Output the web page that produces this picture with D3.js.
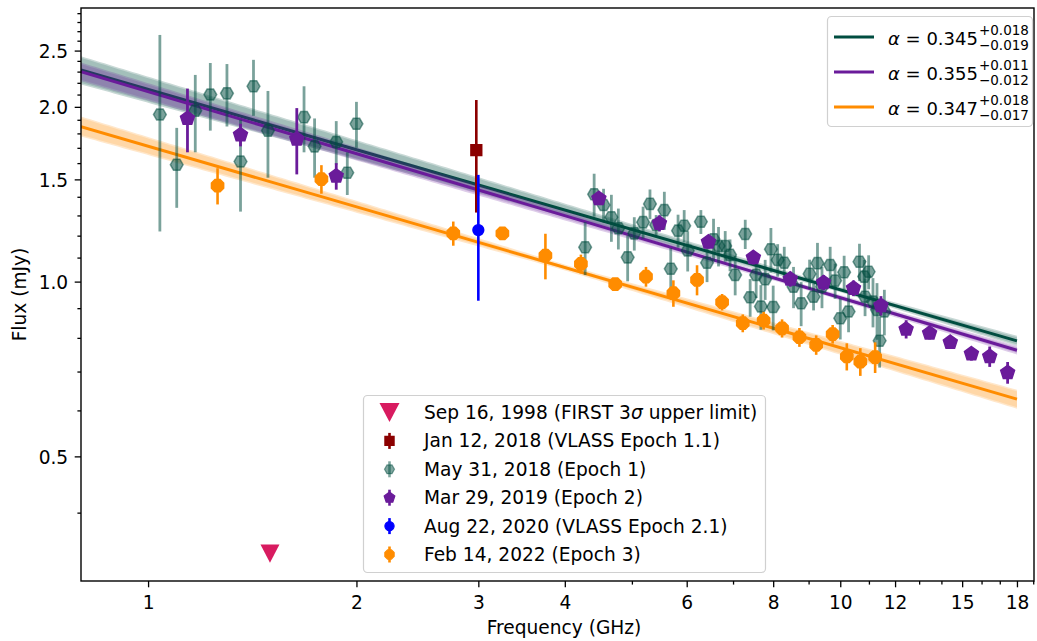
<!DOCTYPE html>
<html>
<head>
<meta charset="utf-8">
<script src="https://cdn.jsdelivr.net/npm/d3@7"></script>
<style>
  body { margin: 0; background: #fff; }
  svg { display: block; font-family: "DejaVu Sans", sans-serif; }
</style>
</head>
<body>
<svg id="chart" width="1037" height="641"></svg>
<script>
// ---- Epoch 1: May 31, 2018 ----
const ep1Freq = [1.04, 1.10, 1.17, 1.23, 1.30, 1.36, 1.42, 1.49, 1.68, 1.74, 1.87, 1.94, 2.00,
  4.28, 4.41, 4.55, 4.67, 4.78, 4.93, 5.04, 5.19, 5.31, 5.42, 5.57, 5.69, 5.83, 5.95, 6.02,
  6.29, 6.42, 6.56, 6.67, 6.82, 6.93, 7.05, 7.29, 7.41, 7.56, 7.68, 7.79, 7.94, 8.00, 8.12,
  8.30, 8.56, 8.78, 9.03, 9.15, 9.27, 9.41, 9.67, 9.83, 10.00, 10.13, 10.28, 10.66, 10.83,
  10.86, 10.99, 11.15, 11.30, 11.40, 11.58];
const ep1Flux = [1.94, 1.59, 1.97, 2.10, 2.11, 1.61, 2.17, 1.82, 1.92, 1.71, 1.74, 1.54, 1.87,
  1.146, 1.414, 1.355, 1.291, 1.236, 1.101, 1.211, 1.266, 1.361, 1.252, 1.328, 1.052, 1.224, 1.248, 1.131,
  1.268, 1.078, 1.183, 1.152, 1.152, 1.112, 1.027, 1.208, 0.940, 1.027, 0.906, 1.010, 1.137, 0.904, 1.090,
  1.078, 0.980, 0.918, 1.031, 0.942, 1.076, 0.980, 1.068, 1.004, 0.865, 1.038, 0.888, 1.082, 1.020,
  0.942, 1.040, 0.924, 0.894, 0.791, 0.888];
const ep1Err = [0.72, 0.25, 0.30, 0.28, 0.26, 0.29, 0.24, 0.31, 0.25, 0.20, 0.15, 0.13, 0.17,
  0.12, 0.12, 0.09, 0.12, 0.10, 0.10, 0.08, 0.08, 0.08, 0.05, 0.10, 0.09, 0.08, 0.08, 0.09,
  0.06, 0.08, 0.10, 0.09, 0.07, 0.07, 0.08, 0.07, 0.07, 0.09, 0.08, 0.08, 0.10, 0.08, 0.07,
  0.07, 0.08, 0.08, 0.06, 0.05, 0.09, 0.08, 0.08, 0.07, 0.07, 0.07, 0.07, 0.08, 0.07,
  0.07, 0.07, 0.09, 0.10, 0.08, 0.08];

// ---- Epoch 2: Mar 29, 2019 ----
const ep2Freq = [1.14, 1.36, 1.64, 1.87, 4.48, 5.48, 6.45, 7.49, 8.47, 9.46, 10.45, 11.45,
  12.45, 13.46, 14.42, 15.47, 16.44, 17.45];
const ep2Flux = [1.91, 1.79, 1.76, 1.52, 1.39, 1.26, 1.17, 1.10, 1.01, 0.996, 0.974, 0.909,
  0.828, 0.815, 0.786, 0.751, 0.743, 0.697];
const ep2Err = [0.24, 0.08, 0.23, 0.08, 0.03, 0.04, 0.03, 0.03, 0.03, 0.03, 0.03, 0.035,
  0.03, 0.02, 0.02, 0.02, 0.03, 0.03];

// ---- Epoch 3: Feb 14, 2022 ----
const ep3Freq = [1.26, 1.78, 2.76, 3.25, 3.75, 4.22, 4.73, 5.24, 5.74, 6.21, 6.75, 7.23,
  7.75, 8.24, 8.73, 9.23, 9.75, 10.22, 10.69, 11.23];
const ep3Flux = [1.463, 1.502, 1.211, 1.211, 1.109, 1.073, 0.990, 1.020, 0.955, 1.007, 0.922, 0.848,
  0.857, 0.831, 0.802, 0.778, 0.812, 0.743, 0.728, 0.741];
const ep3Err = [0.105, 0.085, 0.058, 0.03, 0.10, 0.04, 0.02, 0.04, 0.05, 0.06, 0.03, 0.03,
  0.03, 0.03, 0.03, 0.03, 0.03, 0.04, 0.04, 0.045];

// ---- VLASS single points and FIRST limit ----
const vlass11 = { freq: 2.98, flux: 1.685, err: 0.37 };
const vlass21 = { freq: 3.00, flux: 1.227, err: 0.30 };
const firstLimit = { freq: 1.5, flux: 0.34 };

// ---- Power-law fits S = A * nu^-alpha (A at 1 GHz) ----
const fitNames = ["ep1", "ep2", "ep3"];
const fitNorm = [2.143, 2.125, 1.711];
const fitAlpha = [0.345, 0.355, 0.347];
const fitErrPlus = [0.018, 0.011, 0.018];
const fitErrMinus = [0.019, 0.012, 0.017];
const fitPivot = [10, 9, 4];
const fitNormErr = [0.004, 0.004, 0.005];
const fitRange = [0.8, 18];

// ---- Axis ticks ----
const xMajorTicks = [1, 2, 3, 4, 6, 8, 10, 12, 15, 18];
const xMinorTicks = [5, 7, 9, 11, 13, 14, 16, 17, 19];
const yMajorTicks = [0.5, 1.0, 1.5, 2.0, 2.5];
const yMinorTicks = [0.4, 0.6, 0.7, 0.8, 0.9, 1.1, 1.2, 1.3, 1.4, 1.6, 1.7, 1.8, 1.9,
  2.1, 2.2, 2.3, 2.4, 2.6, 2.7, 2.8, 2.9];

// legend labels; a "σ" is set in italic when drawn
const legendLabels = [
  "Sep 16, 1998 (FIRST 3\u03c3 upper limit)",
  "Jan 12, 2018 (VLASS Epoch 1.1)",
  "May 31, 2018 (Epoch 1)",
  "Mar 29, 2019 (Epoch 2)",
  "Aug 22, 2020 (VLASS Epoch 2.1)",
  "Feb 14, 2022 (Epoch 3)"
];

// ---- Drawing ----
const colors = {
  ep1: "#004d40", ep2: "#6a1b9a", ep3: "#ff8c00",
  vlass11: "#8b0000", vlass21: "#0000ff", first: "#d81b60"
};
const FS = 18.6;
const box = { left: 81, top: 8, right: 1034, bottom: 581 };

const svg = d3.select("#chart");
const x = d3.scaleLog().domain([0.8, 19.05]).range([box.left, box.right]);
const y = d3.scaleLog().domain([0.305, 2.96]).range([box.bottom, box.top]);

svg.append("defs").append("clipPath").attr("id", "plotClip")
  .append("rect").attr("x", box.left).attr("y", box.top)
  .attr("width", box.right - box.left).attr("height", box.bottom - box.top);

const plotG = svg.append("g").attr("clip-path", "url(#plotClip)");

// marker shapes
function polygon(n, r, rot) {
  const pts = d3.range(n).map(i => {
    const a = rot + 2 * Math.PI * i / n;
    return [r * Math.cos(a), r * Math.sin(a)];
  });
  return "M" + pts.map(p => p[0].toFixed(2) + "," + p[1].toFixed(2)).join("L") + "Z";
}
const shapes = {
  hexagon: r => polygon(6, r, 0),
  pentagon: r => polygon(5, r, -Math.PI / 2),
  octagon: r => polygon(8, r, Math.PI / 8),
  square: r => polygon(4, r * Math.SQRT2, Math.PI / 4),
  circle: r => `M${r},0A${r},${r} 0 1,1 ${-r},0A${r},${r} 0 1,1 ${r},0Z`,
  triDown: r => `M${-r},${-r * 0.95}L${r},${-r * 0.95}L0,${r * 0.95}Z`
};

// fit bands and lines
const nuGrid = d3.range(0, 201).map(i => fitRange[0] * Math.pow(fitRange[1] / fitRange[0], i / 200));
const bandOpacity = [0.4, 0.4, 0.38];
fitNames.forEach((name, k) => {
  const A = fitNorm[k], a = fitAlpha[k], p = fitPivot[k];
  const s0 = A * Math.pow(p, -a);
  const band = nuGrid.map(nu => {
    const v1 = s0 * Math.pow(nu / p, -(a + fitErrPlus[k]));
    const v2 = s0 * Math.pow(nu / p, -(a - fitErrMinus[k]));
    const f = Math.pow(10, fitNormErr[k]);
    return { nu, lo: Math.min(v1, v2) / f, hi: Math.max(v1, v2) * f };
  });
  plotG.append("path").datum(band)
    .attr("d", d3.area().x(d => x(d.nu)).y0(d => y(d.lo)).y1(d => y(d.hi)))
    .attr("fill", colors[name]).attr("fill-opacity", bandOpacity[k] * 0.55).attr("stroke", "none");
  plotG.append("path").datum(band)
    .attr("d", d3.area().x(d => x(d.nu)).y0(d => y(d.lo * 1.006)).y1(d => y(d.hi / 1.006)))
    .attr("fill", colors[name]).attr("fill-opacity", bandOpacity[k] * 0.45).attr("stroke", "none");
  plotG.append("path").datum(fitRange)
    .attr("d", d3.line().x(nu => x(nu)).y(nu => y(A * Math.pow(nu, -a))))
    .attr("stroke", colors[name]).attr("stroke-width", 3).attr("fill", "none");
});

// error-bar series
function drawSeries(freq, flux, err, opt) {
  const g = plotG.append("g");
  const pts = freq.map((f, i) => ({ f, v: flux[i], e: err[i] }));
  g.selectAll("line.eb").data(pts).join("line")
    .attr("x1", d => x(d.f)).attr("x2", d => x(d.f))
    .attr("y1", d => y(Math.max(d.v - d.e, 0.01))).attr("y2", d => y(d.v + d.e))
    .attr("stroke", opt.color).attr("stroke-width", opt.ew)
    .attr("stroke-opacity", opt.alpha);
  g.selectAll("path.mk").data(pts).join("path")
    .attr("transform", d => `translate(${x(d.f)},${y(d.v)})`)
    .attr("d", opt.shape(opt.r))
    .attr("fill", opt.color).attr("fill-opacity", opt.alpha)
    .attr("stroke", opt.color).attr("stroke-opacity", opt.alpha).attr("stroke-width", 1.5);
}

// FIRST upper limit
plotG.append("path")
  .attr("transform", `translate(${x(firstLimit.freq)},${y(firstLimit.flux)})`)
  .attr("d", shapes.triDown(9.5)).attr("fill", colors.first);

drawSeries([vlass11.freq], [vlass11.flux], [vlass11.err],
  { color: colors.vlass11, shape: shapes.square, r: 5.4, ew: 2.6, alpha: 1 });
drawSeries(ep1Freq, ep1Flux, ep1Err,
  { color: colors.ep1, shape: shapes.hexagon, r: 6.4, ew: 2.8, alpha: 0.52 });
drawSeries(ep2Freq, ep2Flux, ep2Err,
  { color: colors.ep2, shape: shapes.pentagon, r: 7.3, ew: 2.8, alpha: 1 });
drawSeries([vlass21.freq], [vlass21.flux], [vlass21.err],
  { color: colors.vlass21, shape: shapes.circle, r: 5.4, ew: 2.6, alpha: 1 });
drawSeries(ep3Freq, ep3Flux, ep3Err,
  { color: colors.ep3, shape: shapes.octagon, r: 6.6, ew: 2.6, alpha: 1 });

// axes
const xAxisG = svg.append("g").attr("transform", `translate(0,${box.bottom})`);
xAxisG.call(d3.axisBottom(x).tickValues(xMajorTicks).tickFormat(d3.format("d"))
  .tickSize(6.3).tickPadding(8));
xAxisG.append("g").call(d3.axisBottom(x).tickValues(xMinorTicks).tickFormat("").tickSize(3.6));
const yAxisG = svg.append("g").attr("transform", `translate(${box.left},0)`);
yAxisG.call(d3.axisLeft(y).tickValues(yMajorTicks).tickFormat(d3.format(".1f"))
  .tickSize(6.3).tickPadding(6.5));
yAxisG.append("g").call(d3.axisLeft(y).tickValues(yMinorTicks).tickFormat("").tickSize(3.6));
svg.selectAll(".domain").remove();
svg.selectAll(".tick line").attr("stroke", "#000").attr("stroke-width", 1.3);
svg.selectAll(".tick text").attr("fill", "#000").style("font-size", FS + "px")
  .style("font-family", "'DejaVu Sans', sans-serif");
xAxisG.selectAll(".tick text").attr("dy", "0.72em");
yAxisG.selectAll(".tick text").attr("dy", "0.36em");

svg.append("rect").attr("x", box.left).attr("y", box.top)
  .attr("width", box.right - box.left).attr("height", box.bottom - box.top)
  .attr("fill", "none").attr("stroke", "#000").attr("stroke-width", 1.4);

svg.append("text").attr("x", 564).attr("y", 634).attr("text-anchor", "middle")
  .style("font-size", FS + "px").text("Frequency (GHz)");
svg.append("text").attr("transform", `translate(26,${(box.top + box.bottom) / 2}) rotate(-90)`)
  .attr("text-anchor", "middle").style("font-size", FS + "px").text("Flux (mJy)");

// fit legend (upper right)
const fitLeg = svg.append("g");
fitLeg.append("rect").attr("x", 827.5).attr("y", 16.5).attr("width", 205).attr("height", 110)
  .attr("rx", 4).attr("fill", "#fff").attr("fill-opacity", 0.8)
  .attr("stroke", "#d0d0d0").attr("stroke-width", 1.2);
fitNames.forEach((name, k) => {
  const base = 45 + k * 35;
  fitLeg.append("line").attr("x1", 834).attr("x2", 874)
    .attr("y1", base - 8).attr("y2", base - 8)
    .attr("stroke", colors[name]).attr("stroke-width", 3);
  const t = fitLeg.append("text").attr("x", 888).attr("y", base).style("font-size", "18px");
  t.append("tspan").style("font-style", "italic").text("\u03b1");
  t.append("tspan").text(" = " + fitAlpha[k].toFixed(3));
  const w = t.node().getComputedTextLength();
  fitLeg.append("text").attr("x", 888 + w + 1).attr("y", base - 10)
    .style("font-size", "13.5px").text("+" + fitErrPlus[k].toFixed(3));
  fitLeg.append("text").attr("x", 888 + w + 1).attr("y", base + 4.5)
    .style("font-size", "13.5px").text("\u2212" + fitErrMinus[k].toFixed(3));
});

// data legend (lower middle)
const dataLeg = svg.append("g");
dataLeg.append("rect").attr("x", 363.5).attr("y", 395.5).attr("width", 402).attr("height", 177)
  .attr("rx", 4).attr("fill", "#fff").attr("fill-opacity", 0.8)
  .attr("stroke", "#d0d0d0").attr("stroke-width", 1.2);
const legendHandles = [
  { color: colors.first, shape: shapes.triDown, r: 10, alpha: 1, bar: false },
  { color: colors.vlass11, shape: shapes.square, r: 4.6, alpha: 1, bar: true },
  { color: colors.ep1, shape: shapes.hexagon, r: 5, alpha: 0.5, bar: true },
  { color: colors.ep2, shape: shapes.pentagon, r: 5.6, alpha: 1, bar: true },
  { color: colors.vlass21, shape: shapes.circle, r: 4.6, alpha: 1, bar: true },
  { color: colors.ep3, shape: shapes.octagon, r: 5, alpha: 1, bar: true }
];
legendLabels.forEach((label, i) => {
  const cy = 412.5 + i * 28.4;
  const h = legendHandles[i];
  if (h.bar) {
    dataLeg.append("line").attr("x1", 389.5).attr("x2", 389.5).attr("y1", cy - 8).attr("y2", cy + 8)
      .attr("stroke", h.color).attr("stroke-width", 2.6).attr("stroke-opacity", h.alpha);
  }
  dataLeg.append("path").attr("transform", `translate(389.5,${cy})`).attr("d", h.shape(h.r))
    .attr("fill", h.color).attr("fill-opacity", h.alpha)
    .attr("stroke", h.bar ? h.color : "none").attr("stroke-opacity", h.alpha).attr("stroke-width", 1.2);
  const t = dataLeg.append("text").attr("x", 424).attr("y", cy + 6.5).style("font-size", FS + "px");
  label.split(/(\u03c3)/).forEach(part => {
    if (!part) return;
    const s = t.append("tspan").text(part);
    if (part === "\u03c3") s.style("font-style", "italic");
  });
});
</script>
</body>
</html>
